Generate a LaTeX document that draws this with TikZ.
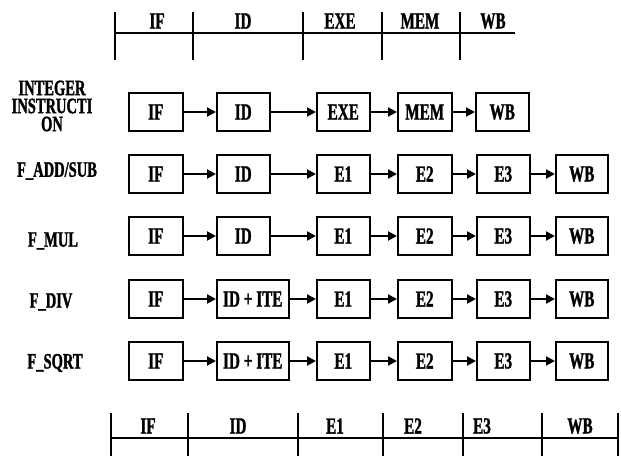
\documentclass[tikz,border=0pt]{standalone}
\usepackage{fontspec}
\usetikzlibrary{arrows.meta}
\newfontfamily\stagefont{Liberation Serif Bold}[FakeStretch=0.66, FakeBold=1.3]

\begin{document}
\begin{tikzpicture}[x=1pt, y=-1pt, >={Triangle[length=9pt,width=9pt]},
    stage/.style={draw, line width=1.5pt, anchor=west, minimum width=54pt,
      minimum height=38pt, inner sep=0pt, font=\stagefont\fontsize{23}{23}\selectfont},
    hdr/.style={inner sep=0pt, font=\stagefont\fontsize{23}{23}\selectfont},
    lbl/.style={inner sep=0pt, align=center, font=\stagefont\fontsize{22}{18}\selectfont},
    link/.style={->, line width=2pt}]
    \useasboundingbox (0,0) rectangle (621,456);

    % top time line
    \draw[line width=1.6pt] (115,33) -- (515,33);
    \foreach \x in {115,193,303,382,460}
      \draw[line width=1.2pt] (\x,12) -- (\x,60);
    \foreach \n/\x/\t in {tif/157/IF, tid/243/ID, texe/340/EXE, tmem/420/MEM, twb/493/WB}
      \node[hdr] (\n) at (\x,21) {\t};

    % integer instruction
    \node[lbl] (l-int) at (52,106) {INTEGER\\INSTRUCTI\\ON};
    \node[stage] (int-if) at (128,112) {IF};
    \node[stage, minimum width=53pt] (int-id) at (216,112) {ID};
    \node[stage, minimum width=53pt] (int-exe) at (316,112) {EXE};
    \node[stage] (int-mem) at (397,112) {MEM};
    \node[stage, minimum width=53pt] (int-wb) at (475,112) {WB};
    \draw[link] (int-if) -- (int-id);
    \draw[link] (int-id) -- (int-exe);
    \draw[link] (int-exe) -- (int-mem);
    \draw[link] (int-mem) -- (int-wb);

    % floating point instructions
    \foreach \r/\y/\w/\t in {add/174/53/ID, mul/236/53/ID,
        div/299/72/ID\,+\,ITE, sqrt/361/72/ID\,+\,ITE} {
      \node[stage] (\r-if) at (128,\y) {IF};
      \node[stage, minimum width=\w pt] (\r-id) at (216,\y) {\t};
      \node[stage, minimum width=53pt] (\r-e1) at (316,\y) {E1};
      \node[stage] (\r-e2) at (397,\y) {E2};
      \node[stage, minimum width=53pt] (\r-e3) at (476,\y) {E3};
      \node[stage, minimum width=52pt] (\r-wb) at (555,\y) {WB};
      \draw[link] (\r-if) -- (\r-id);
      \draw[link] (\r-id) -- (\r-e1);
      \draw[link] (\r-e1) -- (\r-e2);
      \draw[link] (\r-e2) -- (\r-e3);
      \draw[link] (\r-e3) -- (\r-wb);
    }
    \node[lbl] (l-add) at (57,171) {F\_ADD/SUB};
    \node[lbl] (l-mul) at (53,241) {F\_MUL};
    \node[lbl] (l-div) at (51,302) {F\_DIV};
    \node[lbl] (l-sqrt) at (55,363) {F\_SQRT};

    % bottom time line
    \draw[line width=1.6pt] (111,438) -- (618,438);
    \foreach \x in {111,188,298,383,463,542,618}
      \draw[line width=1.2pt] (\x,413) -- (\x,456);
    \foreach \n/\x/\t in {bif/148/IF, bid/238/ID, be1/335/E1, be2/413/E2, be3/482/E3, bwb/580/WB}
      \node[hdr] (\n) at (\x,426) {\t};
  \end{tikzpicture}
\end{document}
